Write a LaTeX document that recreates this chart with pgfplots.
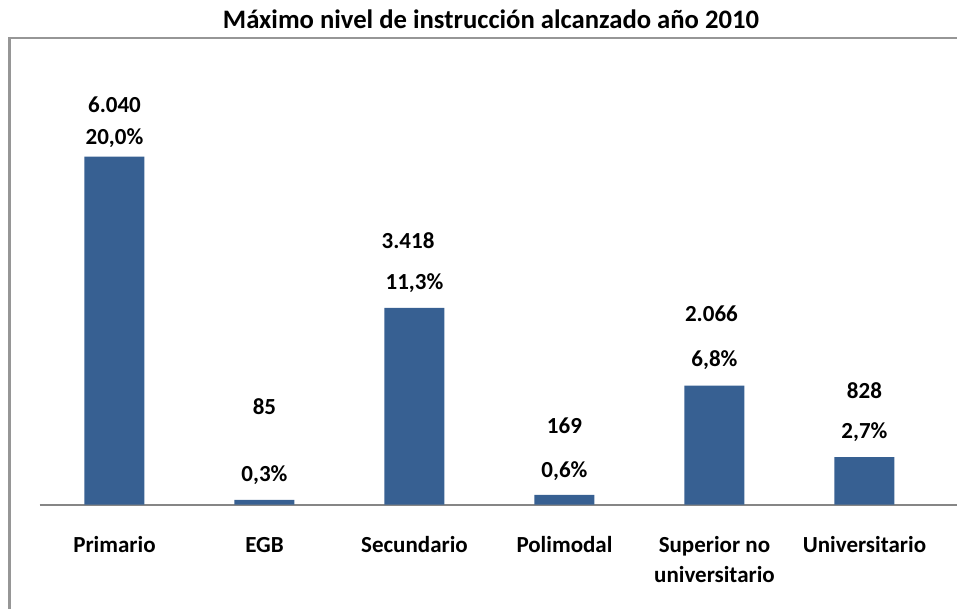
\documentclass[border=0pt]{standalone}
\usepackage{pgfplots}
\pgfplotsset{compat=1.18}
\usetikzlibrary{calc}
\usepackage{fontspec}
\setmainfont{Carlito}
\definecolor{barblue}{RGB}{55,96,146}
\definecolor{framegray}{RGB}{150,150,150}
\definecolor{axisgray}{RGB}{134,134,134}
\begin{document}
\begin{tikzpicture}[x=0.75pt,y=0.75pt]
\begin{axis}[
  scale only axis, width=688.125pt, height=333.5pt,
  xmin=-0.5, xmax=5.617, ymin=0, ymax=7718,
  axis x line=bottom, axis y line=none,
  axis line style={axisgray,line width=1.5pt,-},
  xtick={0,1,2,3,4,5}, major tick length=0pt,
  xticklabels={Primario,EGB,Secundario,Polimodal,{\renewcommand{\arraystretch}{1}\begin{tabular}[t]{@{}c@{}}Superior no\\universitario\end{tabular}},Universitario},
  xticklabel style={font=\bfseries\fontsize{17.25pt}{22.5pt}\selectfont, anchor=base, yshift=-35.5pt},
  ytick=\empty,
  clip=false,
]
\coordinate (O) at (rel axis cs:0,0);
\addplot[ybar, bar width=0.4, fill=barblue, draw=none] coordinates {
  (0,6040) (1,85) (2,3418) (3,169) (4,2066) (5,828)};
% value labels (counts)
\addplot[only marks, mark=none, point meta=explicit symbolic, nodes near coords, nodes near coords align=center,
  every node near coord/.append style={font=\bfseries\fontsize{17.25pt}{20pt}\selectfont, anchor=base, inner sep=0pt}] coordinates {
  (0,6807) [6.040]
  (1,1574) [85]
  (1.957,4450) [3.418]
  (3,1236) [169]
  (3.98,3176) [2.066]
  (5,1847) [828]};
% percentage labels
\addplot[only marks, mark=none, point meta=explicit symbolic, nodes near coords, nodes near coords align=center,
  every node near coord/.append style={font=\bfseries\fontsize{17.25pt}{20pt}\selectfont, anchor=base, inner sep=0pt}] coordinates {
  (0,6260) [20,0\%]
  (1,399) [0,3\%]
  (2,3738) [11,3\%]
  (3,476) [0,6\%]
  (4,2395) [6,8\%]
  (5,1152) [2,7\%]};
\end{axis}
\begin{scope}[shift={($(O)+(-39.5,-103.3)$)}]
\pgfresetboundingbox
\useasboundingbox (0,0) rectangle (957,608);
\draw[framegray,line width=1.9pt] (9.3,-5) -- (9.3,570) -- (962,570);
\node[font=\bfseries\fontsize{20pt}{22pt}\selectfont, anchor=base] at (491,579) {Máximo nivel de instrucción alcanzado año 2010};
\end{scope}
\end{tikzpicture}
\end{document}
